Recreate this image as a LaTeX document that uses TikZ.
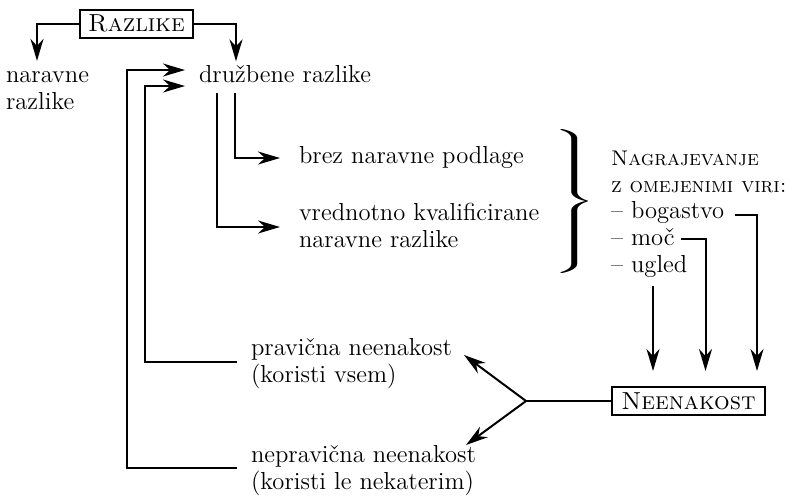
\documentclass[tikz,border=0pt]{standalone}
\usetikzlibrary{arrows.meta,calc}
\newcommand\fsz{\fontsize{12.3}{13.5}\selectfont}
\newcommand\fscs{\fontsize{10.6}{13.5}\selectfont}
\begin{document}
\begin{tikzpicture}[x=0.5pt,y=-0.5pt,
  line width=1pt,
  arr/.style={-{Stealth[length=11pt,width=6.5pt,inset=3.5pt]}},
  txt/.style={inner sep=0pt, font=\fsz, align=left, anchor=west},
  bx/.style={draw, line width=1pt, font=\fsz, inner sep=0pt, minimum height=14pt}]
\useasboundingbox (0,0) rectangle (785,495);

% nodes
\node[bx, minimum width=56.5pt] (razl) at (136.5,23.5) {\textsc{Razlike}};
\node[txt] (nar) at (5,91) {naravne\\razlike};
\node[txt] (druz) at (198,74) {družbene razlike};
\node[txt] (brez) at (298,157) {brez naravne podlage};
\node[txt] (vred) at (298,225) {vrednotno kvalificirane\\naravne razlike};
\node[txt] (prav) at (250,364) {pravična neenakost\\(koristi vsem)};
\node[txt] (nepr) at (250,471) {nepravična neenakost\\(koristi le nekaterim)};
\node[bx, minimum width=76.5pt] (neen) at (688.5,401) {\textsc{Neenakost}};
\node[inner sep=0pt, font=\fsz] (br) at (572,201.5) {\scalebox{2.5}[1]{$\left.\rule[-33pt]{0pt}{66pt}\right\}$}};
\node[txt, font=\fscs, anchor=base west] (nag1) at (610,165) {\textsc{Nagrajevanje}};
\node[txt, font=\fscs, anchor=base west] (nag2) at (610,192) {\textsc{z omejenimi viri:}};
\node[txt, anchor=base west] (bog) at (610,218) {– bogastvo};
\node[txt, anchor=base west] (moc) at (610,245) {– moč};
\node[txt, anchor=base west] (ugl) at (610,272) {– ugled};

% top connectors
\draw[arr] (razl.west) -| ($(nar.north west)+(32,-10)$);
\draw[arr] (razl.east) -| ($(druz.north west)+(38,-3)$);

% feedback into družbene razlike
\draw[arr] ($(nepr.west)+(-13,-3)$) -| ($(druz.west)+(-71,-4)$) -- ($(druz.west)+(-13,-4)$);
\draw[arr] ($(prav.west)+(-13,-2)$) -| ($(druz.west)+(-53,12)$) -- ($(druz.west)+(-13,12)$);

% out of družbene razlike
\draw[arr] ($(druz.west)+(37,19)$) |- ($(brez.west)+(-18,1)$);
\draw[arr] ($(druz.west)+(19,19)$) |- ($(vred.west)+(-18,2)$);

% resources into neenakost
\coordinate (tipline) at ($(neen.north)+(0,-15)$);
\draw[arr] ($(bog.east)+(10,3)$) -| ($(neen.north)+(68.5,-15)$);
\draw[arr] ($(moc.east)+(5,2)$) -| ($(neen.north)+(17,-15)$);
\draw[arr] ($(ugl.south west)+(43,8)$) coordinate (u) -- (u |- tipline);

% neenakost split
\draw (neen.west) -- ++(-85,0) coordinate (j);
\draw[arr] (j) -- ($(j)+(-62,-46)$);
\draw[arr] (j) -- ($(j)+(-60,44)$);
\end{tikzpicture}
\end{document}
